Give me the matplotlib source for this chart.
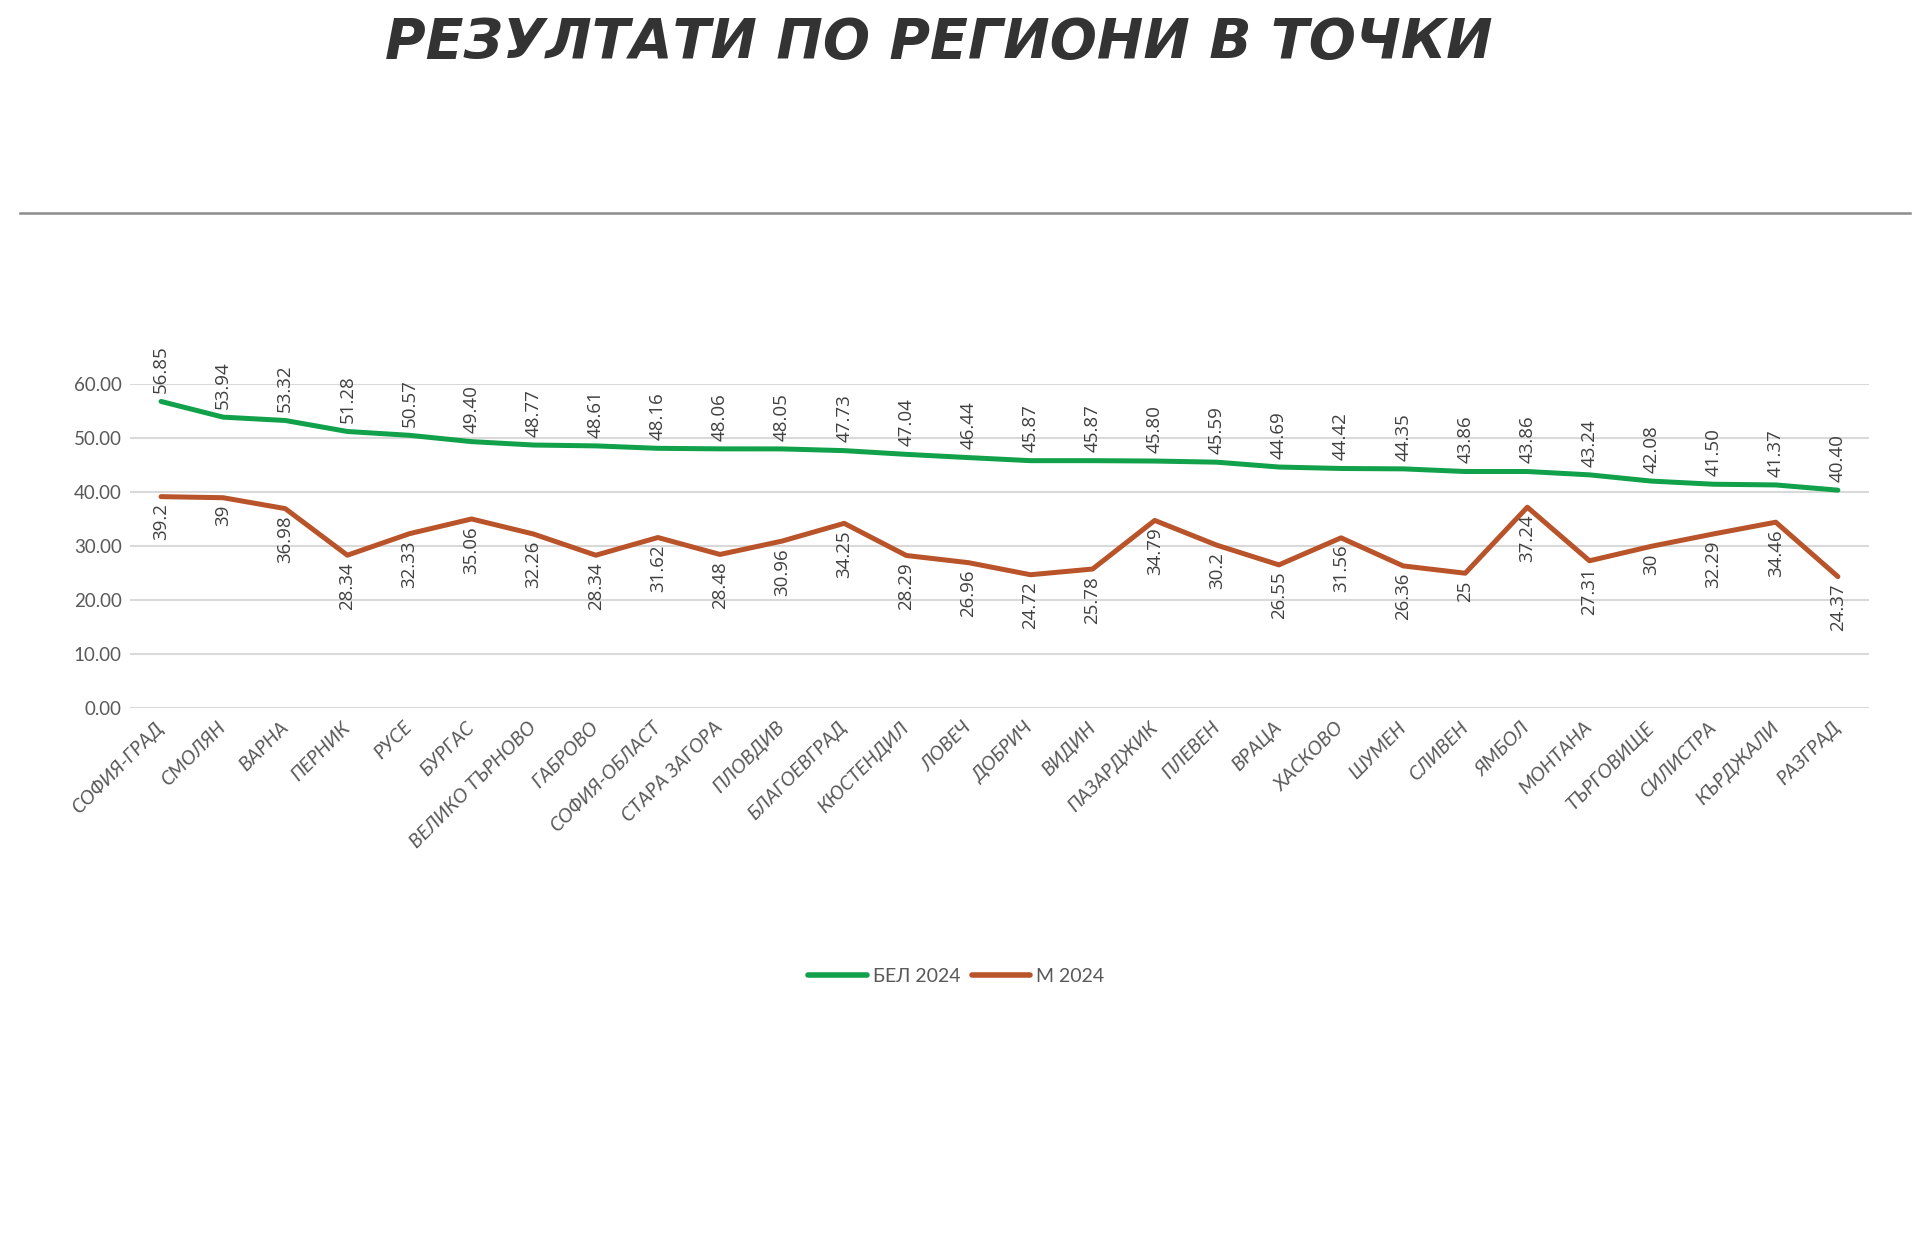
import numpy as np
import matplotlib
matplotlib.use('Agg')
import matplotlib.pyplot as plt
from matplotlib.lines import Line2D

# =============================================================================
# Datos
# =============================================================================

regioni = ['СОФИЯ-ГРАД', 'СМОЛЯН', 'ВАРНА', 'ПЕРНИК', 'РУСЕ', 'БУРГАС',
           'ВЕЛИКО ТЪРНОВО', 'ГАБРОВО', 'СОФИЯ-ОБЛАСТ', 'СТАРА ЗАГОРА',
           'ПЛОВДИВ', 'БЛАГОЕВГРАД', 'КЮСТЕНДИЛ', 'ЛОВЕЧ', 'ДОБРИЧ', 'ВИДИН',
           'ПАЗАРДЖИК', 'ПЛЕВЕН', 'ВРАЦА', 'ХАСКОВО', 'ШУМЕН', 'СЛИВЕН',
           'ЯМБОЛ', 'МОНТАНА', 'ТЪРГОВИЩЕ', 'СИЛИСТРА', 'КЪРДЖАЛИ', 'РАЗГРАД']

bel_2024 = [56.85, 53.94, 53.32, 51.28, 50.57, 49.40, 48.77, 48.61, 48.16,
            48.06, 48.05, 47.73, 47.04, 46.44, 45.87, 45.87, 45.80, 45.59,
            44.69, 44.42, 44.35, 43.86, 43.86, 43.24, 42.08, 41.50, 41.37,
            40.40]

m_2024 = [39.2, 39, 36.98, 28.34, 32.33, 35.06, 32.26, 28.34, 31.62, 28.48,
          30.96, 34.25, 28.29, 26.96, 24.72, 25.78, 34.79, 30.2, 26.55, 31.56,
          26.36, 25, 37.24, 27.31, 30, 32.29, 34.46, 24.37]

y_ticks = [0, 10, 20, 30, 40, 50, 60]

verde = '#10a14a'
cafe = '#b9532a'
gris = '#595959'
fuente = ['Lato', 'DejaVu Sans']

# =============================================================================
# Figura
# =============================================================================

fig = plt.figure(figsize=(19.2, 12.37), dpi=100)
ax = fig.add_axes([0.0677, 0.4276, 0.9057, 0.2616])

x = np.arange(len(regioni))
ax.plot(x, bel_2024, color=verde, linewidth=3.6, solid_joinstyle='round',
        solid_capstyle='round', label='БЕЛ 2024', zorder=3)
ax.plot(x, m_2024, color=cafe, linewidth=3.6, solid_joinstyle='round',
        solid_capstyle='round', label='М 2024', zorder=3)

# Etiquetas de datos
for xi, v in zip(x, bel_2024):
    ax.annotate('%.2f' % v, (xi, v), xytext=(0, 6), textcoords='offset points',
                rotation=90, ha='center', va='bottom', fontsize=13.5,
                color='#404040', family=['Open Sans', 'DejaVu Sans'],
                annotation_clip=False)
for xi, v in zip(x, m_2024):
    ax.annotate('{:g}'.format(v), (xi, v), xytext=(0, -5), textcoords='offset points',
                rotation=90, ha='center', va='top', fontsize=13.5,
                color='#404040', family=['Open Sans', 'DejaVu Sans'],
                annotation_clip=False)

ax.set_xlim(-0.5, len(regioni) - 0.5)
ax.set_ylim(0, 60)
ax.set_yticks(y_ticks)
ax.set_yticklabels(['%.2f' % t for t in y_ticks], family=fuente,
                   fontsize=13.5, color=gris)
ax.set_xticks(x)
ax.set_xticklabels(regioni, rotation=45, ha='right', va='center',
                   rotation_mode='anchor', family=fuente, fontsize=14,
                   fontstyle='italic', color=gris)
ax.tick_params(axis='both', length=0)
ax.tick_params(axis='x', pad=12)
ax.tick_params(axis='y', pad=6)

ax.grid(axis='y', color='#d9d9d9', linewidth=1.5)
ax.set_axisbelow(True)
for s in ax.spines.values():
    s.set_visible(False)

# Leyenda
handles = [Line2D([], [], color=verde, linewidth=4, solid_capstyle='round'),
           Line2D([], [], color=cafe, linewidth=4, solid_capstyle='round')]
fig.legend(handles, ['БЕЛ 2024', 'М 2024'], loc='center',
           bbox_to_anchor=(0.498, 1 - 976 / 1237), ncol=2, frameon=False,
           prop={'family': fuente, 'size': 14}, labelcolor=gris,
           handlelength=3.0, handletextpad=0.3, columnspacing=0.6)

# Titulo y linea
fig.text(0.489, 1 - 43 / 1237, 'РЕЗУЛТАТИ ПО РЕГИОНИ В ТОЧКИ', ha='center',
         va='center', fontsize=40, fontweight='bold', fontstyle='italic',
         color='#333333', family='DejaVu Sans')
fig.add_artist(Line2D([20 / 1920, 1910 / 1920], [1 - 213 / 1237, 1 - 213 / 1237],
                      color='#8c8c8c', linewidth=1.8))

fig.savefig('out.png', dpi=100, facecolor='white')
